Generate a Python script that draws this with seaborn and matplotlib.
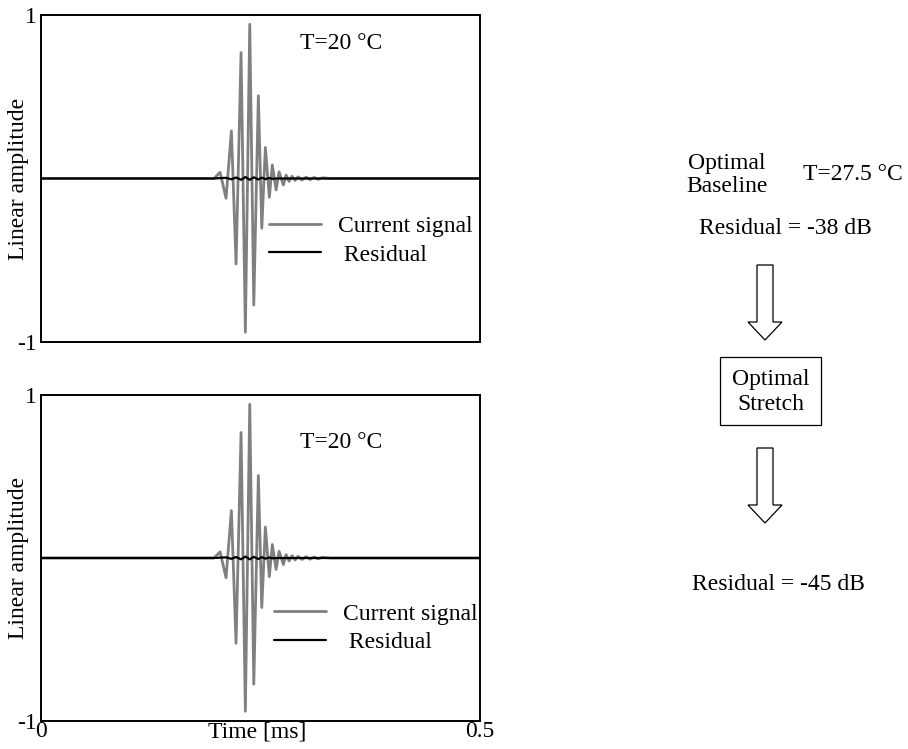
import matplotlib
matplotlib.use("Agg")
import matplotlib.pyplot as plt
from matplotlib.patches import FancyArrow, Rectangle
import seaborn as sns

sns.set_theme(style="white")
plt.rcParams["font.family"] = ["Liberation Serif", "DejaVu Serif"]
plt.rcParams["text.color"] = "black"
plt.rcParams["axes.labelcolor"] = "black"
plt.rcParams["xtick.color"] = "black"
plt.rcParams["ytick.color"] = "black"

# Received tone burst: extrema of the waveform (time in ms, linear amplitude)
burst_time_ms = [0.0, 0.1970, 0.2039, 0.2107, 0.2168, 0.2221, 0.2278, 0.2327,
                 0.2377, 0.2423, 0.2475, 0.2514, 0.2555, 0.2600, 0.2634, 0.2677,
                 0.2711, 0.2760, 0.2791, 0.2825, 0.2859, 0.2893, 0.2927, 0.2973,
                 0.3018, 0.3064, 0.3110, 0.3155, 0.3201, 0.3300, 0.5]
burst_amp = [0.0, 0.0, 0.038, -0.121, 0.291, -0.523, 0.770, -0.940,
             0.943, -0.774, 0.506, -0.304, 0.190, -0.115, 0.083, -0.070,
             0.041, -0.040, 0.021, -0.018, 0.014, -0.012, 0.010, -0.009,
             0.008, -0.007, 0.006, -0.005, 0.004, 0.0, 0.0]

# Residual after baseline subtraction (stays close to zero)
resid_time_ms = [0.0, 0.1970, 0.2107, 0.2168, 0.2221, 0.2278, 0.2327, 0.2377,
                 0.2423, 0.2475, 0.2514, 0.2555, 0.2600, 0.2634, 0.2677, 0.5]
resid_amp = [0.0, 0.0, 0.004, -0.005, 0.006, -0.008, 0.009, -0.008,
             0.007, -0.006, 0.005, -0.004, 0.003, -0.002, 0.0, 0.0]

temperatures = ["T=20 °C", "T=20 °C"]
series_labels = ["Current signal", " Residual"]
ytick_vals = [-1, 1]
ytick_text = ["-1", "1"]
xtick_vals = [0, 0.5]
xtick_text = ["0", "0.5"]

FS = 17
GRAY = "#808080"

fig = plt.figure(figsize=(9.08, 7.49), dpi=100)
ax_top = fig.add_axes([0.0452, 0.5434, 0.4835, 0.4366])
ax_bot = fig.add_axes([0.0452, 0.0374, 0.4835, 0.4352])

text_pos = [(0.59, 0.914), (0.59, 0.853)]
legend_pos = [(0.52, 0.387), (0.531, 0.362)]

for ax, temp, tpos, lpos in zip([ax_top, ax_bot], temperatures, text_pos, legend_pos):
    sns.lineplot(x=burst_time_ms, y=burst_amp, ax=ax, color=GRAY, linewidth=2.0,
                 label=series_labels[0], sort=False, estimator=None)
    sns.lineplot(x=resid_time_ms, y=resid_amp, ax=ax, color="black", linewidth=1.6,
                 label=series_labels[1], sort=False, estimator=None)
    ax.set_xlim(0, 0.5)
    ax.set_ylim(-1, 1)
    ax.set_yticks(ytick_vals)
    ax.set_yticklabels(ytick_text)
    ax.tick_params(axis="both", length=0, labelsize=FS, pad=3, colors="black")
    for sp in ax.spines.values():
        sp.set_visible(True)
        sp.set_color("black")
        sp.set_linewidth(1.4)
    ax.set_ylabel("Linear amplitude", fontsize=FS, color="black")
    ax.yaxis.set_label_coords(-0.027, 0.5)
    ax.text(tpos[0], tpos[1], temp, transform=ax.transAxes, fontsize=FS,
            ha="left", va="center", color="black")
    ax.legend(loc="upper left", bbox_to_anchor=lpos, frameon=False, fontsize=FS,
              handlelength=2.2, handletextpad=0.7, labelspacing=0.3,
              borderpad=0, borderaxespad=0, labelcolor="black")

ax_top.set_xticks([])
ax_top.set_xlabel("")
ax_bot.set_xticks(xtick_vals)
ax_bot.set_xticklabels(xtick_text)
ax_bot.tick_params(axis="x", pad=0)
ax_bot.set_xlabel("Time [ms]", fontsize=FS, color="black")
ax_bot.xaxis.set_label_coords(0.492, -0.003)

# Process diagram on the right
W, H = 908.0, 749.0


def fx(px):
    return px / W


def fy(py):
    return 1 - py / H


fig.text(fx(727), fy(175), "Optimal\nBaseline", fontsize=FS, ha="center",
         va="center", linespacing=1.15, multialignment="center")
fig.text(fx(853), fy(175), "T=27.5 °C", fontsize=FS, ha="center", va="center")
fig.text(fx(785), fy(228), "Residual = -38 dB", fontsize=FS, ha="center", va="center")

for top, tip in [(265, 340), (448, 523)]:
    arr = FancyArrow(fx(765), fy(top), 0, fy(tip) - fy(top),
                     width=16 / W, head_width=34 / W, head_length=18 / H,
                     length_includes_head=True, transform=fig.transFigure,
                     facecolor="white", edgecolor="black", linewidth=0.9)
    fig.add_artist(arr)

box = Rectangle((fx(720), fy(425)), 101 / W, 68 / H, transform=fig.transFigure,
                facecolor="white", edgecolor="black", linewidth=0.9)
fig.add_artist(box)
fig.text(fx(770.5), fy(392), "Optimal\nStretch", fontsize=FS, ha="center",
         va="center", linespacing=1.25, multialignment="center")
fig.text(fx(778), fy(585), "Residual = -45 dB", fontsize=FS, ha="center", va="center")

fig.savefig("out.png", dpi=100)
